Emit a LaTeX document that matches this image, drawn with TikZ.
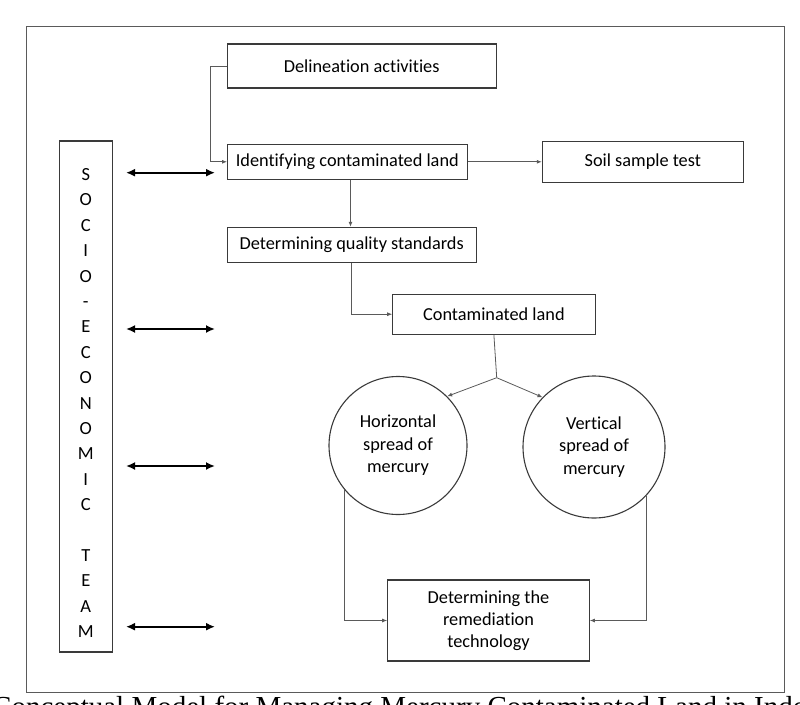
\documentclass[tikz,border=0pt]{standalone}
\usepackage{fontspec}
\setmainfont{Carlito}[Ligatures={NoCommon}]
\newfontfamily\capfont{Liberation Serif}
\usetikzlibrary{arrows.meta}
\definecolor{boxgray}{HTML}{3A3A3A}
\definecolor{conngray}{HTML}{5A5A5A}
\begin{document}
\begin{tikzpicture}[x=1pt,y=-1pt,
  box/.style={draw=boxgray, line width=1.1pt, inner sep=0pt, align=center,
    font=\fontsize{18.3}{22}\selectfont},
  circ/.style={draw=boxgray, line width=1.1pt, circle, inner sep=0pt, align=center,
    font=\fontsize{18.3}{22.5}\selectfont},
  conn/.style={draw=conngray, line width=0.8pt, -{Latex[length=5pt,width=4pt]}},
  plain/.style={draw=conngray, line width=0.8pt},
  biarrow/.style={line width=2.4pt, {Latex[length=9pt,width=8pt]}-{Latex[length=9pt,width=8pt]}}
]
\useasboundingbox (0,0) rectangle (800,704);
\clip (0,0) rectangle (800,704);

% outer frame
\draw[draw=conngray, line width=1pt] (26.5,26) rectangle (784,692);

% boxes
\node[box, minimum width=268.7pt, minimum height=44pt] (delin) at (361.7,66) {Delineation activities};
\node[box, minimum width=239.5pt, minimum height=35pt] (ident) at (347.3,161.8) {Identifying contaminated land};
\node[box, minimum width=201pt, minimum height=40.6pt] (soil) at (642.8,162) {Soil sample test};
\node[box, minimum width=248.7pt, minimum height=35pt] (qual) at (351.7,244.8) {Determining quality standards};
\node[box, minimum width=202.3pt, minimum height=40.3pt] (cont) at (493.9,314.2) {Contaminated land};
\node[circ, minimum size=138pt] (hor) at (398,445.5) {Horizontal\\spread of\\mercury};
\node[circ, minimum size=142pt] (ver) at (594,447) {Vertical\\spread of\\mercury};
\node[box, minimum width=201.6pt, minimum height=81pt] (rem) at (488.5,620.5) {Determining the\\remediation\\technology};

% socio-economic team box
\node[draw=boxgray, line width=1.1pt, minimum width=53pt, minimum height=511pt, inner sep=0pt] (socio) at (85.8,396.5) {};
\node[align=center, inner sep=0pt, font=\fontsize{18.5}{25.4}\selectfont] (sociotext) at (85.8,403)
 {S\\O\\C\\I\\O\\-\\E\\C\\O\\N\\O\\M\\I\\C\\\mbox{}\\T\\E\\A\\M};

% connectors
\coordinate (dl) at (210.7,66);
\draw[conn] (delin.west) -- (dl) |- (ident.west);
\draw[conn] (ident.east) -- (ident.east -| soil.west);
\draw[conn] (ident.south -| 350.5,0) -- (qual.north -| 350.5,0);
\draw[conn] (qual.south) |- (cont.west);
\coordinate (J) at (496.7,377.7);
\draw[plain] (cont.south) -- (J);
\draw[conn] (J) -- (hor.45);
\draw[conn] (J) -- (ver.136);
\draw[conn] (hor.220) |- (rem.west);
\draw[conn] (ver.-43) |- (rem.east);

% two-headed arrows
\coordinate (a1l) at (126,172.7); \coordinate (a1r) at (215,172.7);
\coordinate (a2l) at (126,329);   \coordinate (a2r) at (215,329);
\coordinate (a3l) at (126,466);   \coordinate (a3r) at (215,466);
\coordinate (a4l) at (126,626.7); \coordinate (a4r) at (215,626.7);
\draw[biarrow] (a1l) -- (a1r);
\draw[biarrow] (a2l) -- (a2r);
\draw[biarrow] (a3l) -- (a3r);
\draw[biarrow] (a4l) -- (a4r);

% caption (cut off at the bottom, as in the reference)
\node[anchor=base west, inner sep=0pt, font=\capfont\fontsize{29}{34}\selectfont] (caption) at (-8,716)
 {Conceptual Model for Managing Mercury Contaminated Land in Indonesia};
\end{tikzpicture}
\end{document}
